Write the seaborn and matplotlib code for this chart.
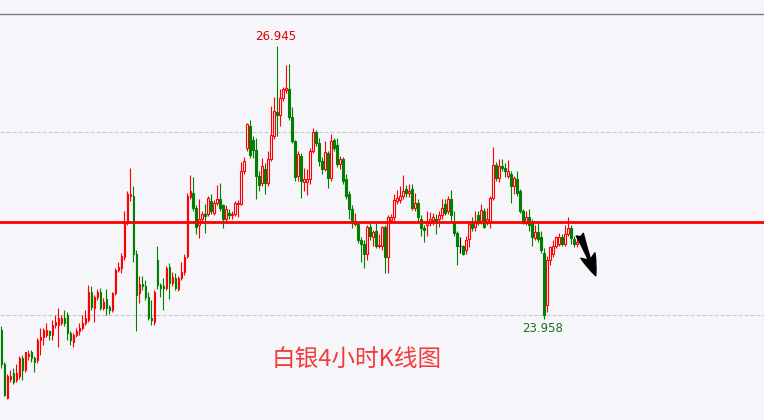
"""Silver 4H candlestick chart."""
import matplotlib

matplotlib.use("Agg")
import matplotlib.pyplot as plt
import numpy as np
import pandas as pd
import seaborn as sns

# OHLC of the 4-hour candles, oldest first
opens = [
    23.84, 23.46, 23.09, 23.30, 23.37, 23.29, 23.33, 23.53, 23.40, 23.55,
    23.59, 23.53, 23.51, 23.73, 23.76, 23.78, 23.82, 23.78, 23.89, 23.89,
    23.91, 23.97, 24.00, 23.80, 23.70, 23.78, 23.82, 23.86, 23.91, 23.95,
    24.25, 24.08, 24.20, 24.25, 24.08, 24.17, 24.09, 24.05, 24.24, 24.49,
    24.52, 24.63, 25.01, 25.30, 25.30, 24.67, 24.24, 24.34, 24.32, 24.20,
    23.97, 23.92, 24.60, 24.33, 24.32, 24.30, 24.53, 24.35, 24.41, 24.29,
    24.41, 24.47, 24.65, 25.29, 25.34, 25.17, 24.98, 25.05, 25.11, 25.11,
    25.25, 25.12, 25.23, 25.27, 25.20, 25.05, 25.12, 25.09, 25.11, 25.22,
    25.22, 25.58, 25.83, 26.07, 25.92, 25.81, 25.52, 25.45, 25.60, 25.45,
    25.71, 25.96, 26.22, 26.19, 26.37, 26.46, 26.47, 26.17, 25.90, 25.52,
    25.74, 25.46, 25.46, 25.49, 25.80, 26.00, 25.88, 25.69, 25.60, 25.77,
    25.50, 25.92, 25.86, 25.65, 25.71, 25.49, 25.33, 25.16, 25.00, 25.00,
    24.82, 24.78, 24.67, 24.96, 24.85, 24.92, 24.75, 24.75, 24.96, 24.63,
    25.04, 25.07, 25.25, 25.26, 25.30, 25.38, 25.34, 25.38, 25.17, 25.23,
    25.05, 24.95, 24.98, 25.01, 25.04, 25.05, 25.05, 25.09, 25.22, 25.14,
    25.27, 25.01, 24.90, 24.75, 24.75, 24.71, 24.83, 25.00, 24.96, 25.09,
    25.03, 25.14, 25.01, 25.03, 25.28, 25.64, 25.50, 25.63, 25.61, 25.52,
    25.54, 25.41, 25.49, 25.36, 25.14, 25.01, 25.07, 25.01, 24.84, 24.91,
    24.85, 24.68, 24.11, 24.60, 24.67, 24.76, 24.78, 24.85, 24.78, 24.89,
    24.95, 24.83, 24.78,
]
highs = [
    23.88, 23.49, 23.35, 23.40, 23.42, 23.46, 23.55, 23.56, 23.60, 23.62,
    23.62, 23.55, 23.75, 23.86, 23.86, 23.91, 23.84, 23.95, 24.00, 24.08,
    24.00, 24.05, 24.03, 23.82, 23.80, 23.86, 23.91, 24.00, 24.05, 24.33,
    24.32, 24.22, 24.29, 24.30, 24.19, 24.28, 24.11, 24.25, 24.52, 24.58,
    24.68, 25.14, 25.36, 25.61, 25.41, 24.71, 24.43, 24.43, 24.38, 24.25,
    24.16, 24.27, 24.76, 24.35, 24.41, 24.54, 24.57, 24.47, 24.46, 24.43,
    24.58, 24.67, 25.34, 25.53, 25.51, 25.20, 25.27, 25.14, 25.22, 25.30,
    25.32, 25.26, 25.42, 25.45, 25.22, 25.20, 25.16, 25.14, 25.25, 25.26,
    25.67, 25.73, 26.10, 26.13, 25.96, 25.94, 25.58, 25.72, 25.66, 25.79,
    26.29, 26.39, 26.945, 26.47, 26.50, 26.74, 26.75, 26.28, 25.92, 25.79,
    25.77, 25.61, 25.60, 25.83, 26.05, 26.03, 25.94, 25.73, 25.90, 25.79,
    25.98, 25.94, 25.94, 25.74, 25.73, 25.54, 25.36, 25.20, 25.12, 25.03,
    24.85, 24.82, 24.98, 25.03, 24.93, 25.03, 24.89, 24.97, 24.98, 25.10,
    25.11, 25.33, 25.37, 25.41, 25.53, 25.42, 25.43, 25.43, 25.34, 25.27,
    25.09, 24.98, 25.14, 25.13, 25.12, 25.11, 25.14, 25.27, 25.27, 25.30,
    25.37, 25.14, 24.92, 24.85, 24.77, 24.86, 25.01, 25.07, 25.14, 25.14,
    25.22, 25.17, 25.17, 25.30, 25.84, 25.68, 25.71, 25.71, 25.66, 25.70,
    25.58, 25.52, 25.58, 25.38, 25.16, 25.14, 25.16, 25.05, 24.99, 25.01,
    24.92, 24.73, 24.65, 24.76, 24.82, 24.87, 24.90, 24.89, 24.98, 25.07,
    24.98, 24.86, 24.84,
]
lows = [
    23.42, 23.11, 23.08, 23.27, 23.24, 23.27, 23.30, 23.29, 23.38, 23.51,
    23.49, 23.38, 23.48, 23.56, 23.67, 23.76, 23.73, 23.73, 23.86, 23.65,
    23.89, 23.88, 23.73, 23.67, 23.65, 23.76, 23.78, 23.84, 23.89, 23.92,
    24.05, 23.92, 24.16, 24.05, 24.05, 24.00, 24.01, 24.03, 24.22, 24.47,
    24.46, 24.60, 24.98, 25.25, 24.58, 23.82, 24.13, 24.27, 24.16, 23.95,
    23.89, 23.89, 24.29, 24.20, 24.05, 24.27, 24.17, 24.32, 24.27, 24.26,
    24.38, 24.44, 24.62, 25.27, 25.14, 24.89, 24.84, 25.01, 24.90, 25.08,
    25.11, 25.09, 25.20, 25.14, 24.95, 25.02, 25.05, 25.05, 25.08, 25.07,
    25.20, 25.54, 25.79, 25.72, 25.72, 25.27, 25.36, 25.41, 25.33, 25.41,
    25.69, 25.93, 25.96, 26.07, 26.34, 26.43, 26.14, 25.88, 25.47, 25.47,
    25.28, 25.36, 25.31, 25.43, 25.77, 25.85, 25.63, 25.54, 25.58, 25.39,
    25.47, 25.79, 25.62, 25.60, 25.43, 25.27, 25.05, 24.95, 24.97, 24.79,
    24.58, 24.51, 24.60, 24.82, 24.76, 24.73, 24.73, 24.71, 24.46, 24.46,
    25.01, 25.03, 25.22, 25.23, 25.27, 25.29, 25.29, 25.15, 25.14, 25.03,
    24.87, 24.80, 24.87, 24.97, 24.99, 24.89, 24.96, 25.05, 25.09, 25.11,
    25.03, 24.87, 24.55, 24.68, 24.66, 24.67, 24.74, 24.92, 24.92, 24.98,
    25.00, 24.95, 24.98, 24.95, 25.26, 25.47, 25.46, 25.58, 25.51, 25.50,
    25.23, 25.33, 25.30, 25.12, 25.00, 24.98, 24.92, 24.76, 24.82, 24.80,
    24.68, 23.958, 24.03, 24.55, 24.64, 24.73, 24.75, 24.75, 24.75, 24.86,
    24.78, 24.74, 24.74,
]
closes = [
    23.46, 23.13, 23.33, 23.33, 23.27, 23.37, 23.53, 23.40, 23.59, 23.57,
    23.53, 23.49, 23.73, 23.76, 23.84, 23.84, 23.78, 23.89, 23.92, 23.97,
    23.97, 23.91, 23.80, 23.73, 23.78, 23.82, 23.86, 23.91, 23.97, 24.25,
    24.09, 24.20, 24.25, 24.08, 24.14, 24.08, 24.05, 24.24, 24.49, 24.53,
    24.65, 25.01, 25.33, 25.32, 24.67, 24.22, 24.34, 24.32, 24.20, 23.97,
    23.95, 24.25, 24.33, 24.30, 24.30, 24.52, 24.35, 24.42, 24.30, 24.40,
    24.47, 24.64, 25.30, 25.36, 25.17, 24.96, 25.05, 25.11, 25.08, 25.28,
    25.14, 25.23, 25.27, 25.17, 25.05, 25.16, 25.09, 25.11, 25.23, 25.23,
    25.58, 25.69, 26.09, 25.75, 25.81, 25.52, 25.42, 25.63, 25.45, 25.71,
    25.97, 26.23, 26.19, 26.37, 26.47, 26.48, 26.17, 25.90, 25.51, 25.76,
    25.47, 25.49, 25.49, 25.80, 26.00, 25.88, 25.69, 25.60, 25.78, 25.50,
    25.91, 25.83, 25.65, 25.71, 25.47, 25.30, 25.16, 25.01, 25.03, 24.82,
    24.78, 24.67, 24.96, 24.86, 24.91, 24.75, 24.77, 24.96, 24.63, 25.07,
    25.07, 25.26, 25.28, 25.30, 25.36, 25.34, 25.36, 25.17, 25.23, 25.07,
    24.95, 24.93, 25.03, 25.05, 25.07, 25.03, 25.09, 25.17, 25.12, 25.27,
    25.09, 24.90, 24.75, 24.75, 24.67, 24.82, 25.00, 24.95, 25.03, 25.01,
    25.15, 24.96, 25.05, 25.28, 25.64, 25.50, 25.63, 25.61, 25.58, 25.58,
    25.41, 25.50, 25.34, 25.14, 25.01, 25.07, 24.98, 24.85, 24.91, 24.83,
    24.71, 24.00, 24.60, 24.74, 24.76, 24.85, 24.85, 24.78, 24.89, 24.95,
    24.84, 24.78, 24.80,
]

grid_levels = [24.0, 26.0]
key_level = 25.02
title = "白银4小时K线图"

BG = "#f6f5fa"
UP = "#ff0000"
DOWN = "#008000"

df = pd.DataFrame({"open": opens, "high": highs, "low": lows, "close": closes})
df["x"] = np.arange(len(df))
df["color"] = np.where(df.close > df.open, UP, np.where(df.close < df.open, DOWN, "black"))

sns.set_theme(style="white", rc={"axes.facecolor": BG, "figure.facecolor": BG})
plt.rcParams["font.family"] = ["Noto Sans CJK SC", "DejaVu Sans"]

fig = plt.figure(figsize=(7.64, 4.2), dpi=100)
ax = fig.add_axes([0, 0, 1, 1])
ax.set_facecolor(BG)

# grid and frame
for lvl in grid_levels:
    ax.axhline(lvl, color="#c4c4cc", lw=0.8, ls=(0, (3.6, 1.8)), zorder=1)
ax.axhline(27.30, color="#7a7a7a", lw=1.0, zorder=1)

# wicks then bodies (up candles hollow)
ax.vlines(df.x, df.low, df.high, colors=df.color, lw=0.8, zorder=2)
bottom = df[["open", "close"]].min(axis=1)
height = (df.close - df.open).abs().clip(lower=0.006)
face = [BG if c == UP else c for c in df.color]
ax.bar(df.x, height, bottom=bottom, width=0.65, color=face,
       edgecolor=df.color, linewidth=0.8, zorder=3)

ax.axhline(key_level, color="#ff0000", lw=2.0, zorder=4)

# labels on the session high and on the low after it
i_hi = int(df.high.idxmax())
i_lo = int(df.low[i_hi:].idxmin())
ax.annotate(f"{df.high[i_hi]:.3f}", (i_hi, df.high[i_hi]), xytext=(-1, 2),
            textcoords="offset points", ha="center", va="bottom",
            fontsize=8.5, color="#e00000", family="DejaVu Sans")
ax.annotate(f"{df.low[i_lo]:.3f}", (i_lo, df.low[i_lo]), xytext=(-1, -2),
            textcoords="offset points", ha="center", va="top",
            fontsize=8.5, color="#1f6e1f", family="DejaVu Sans")

# down arrow after the last candle
ax.annotate("", xy=(198.1, 24.43), xytext=(192.8, 24.88),
            arrowprops=dict(arrowstyle="fancy,head_length=1.3,head_width=0.9,tail_width=0.45",
                            color="black", shrinkA=0, shrinkB=0), zorder=5)

ax.text(0.467, 0.145, title, transform=ax.transAxes, ha="center", va="center",
        fontsize=17, color="#f03c3c")

ax.set_xlim(-0.5, 254.2)
ax.set_ylim(22.851, 27.448)
ax.axis("off")

fig.savefig("out.png", dpi=100, facecolor=BG)
